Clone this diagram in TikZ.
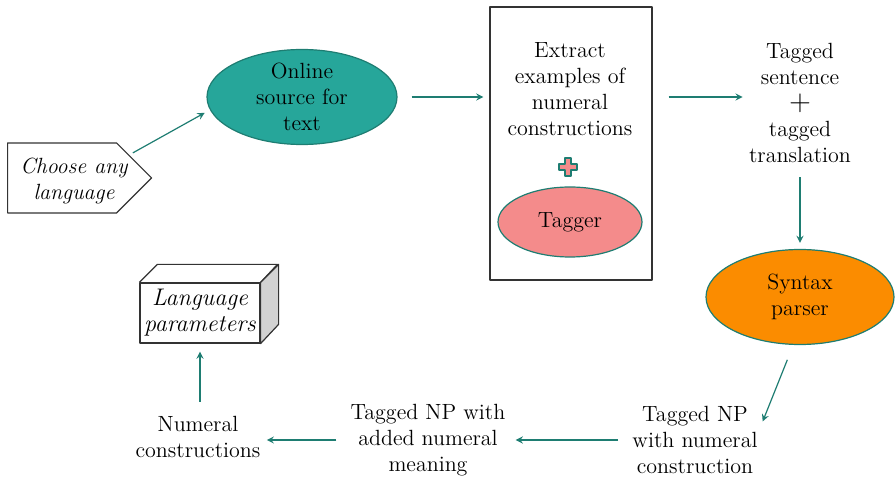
\documentclass[tikz,border=0pt]{standalone}
\usetikzlibrary{shapes.geometric,shapes.symbols,arrows.meta,calc}
\definecolor{tealfill}{HTML}{26A69A}
\definecolor{tealline}{HTML}{1E7D72}
\definecolor{pinkfill}{HTML}{F48B8B}
\definecolor{orangefill}{HTML}{FB8C00}
\definecolor{boxline}{HTML}{333333}
\begin{document}
\begin{tikzpicture}[x=0.5pt, y=-0.5pt, line join=round, >=stealth,
    font=\fontsize{11}{13}\selectfont,
    oval/.style={ellipse, draw=tealline, line width=0.6pt, inner sep=0pt},
    txt/.style={align=center, inner sep=2pt},
    flow/.style={->, draw=tealline, line width=0.6pt, shorten >=3pt, shorten <=5pt}]
	\useasboundingbox (0,0) rectangle (895,480);
	
	% start
	\node[signal, signal to=east, signal pointer angle=90, draw=boxline, line width=0.6pt,
	  minimum width=72pt, minimum height=35pt, inner sep=0pt, anchor=west] (lang) at (7,178) {};
	\node[txt, font=\fontsize{11}{13}\selectfont\itshape] at (74,181) {Choose any\\language};
	
	% online source
	\node[oval, fill=tealfill, minimum width=95pt, minimum height=47.5pt] (src) at (302,97) {};
	\node[txt] at (src) {Online\\source for\\text};
	
	% extraction box
	\node[draw=boxline, line width=0.6pt, minimum width=81pt, minimum height=136.5pt] (ext) at (571,143.5) {};
	\node[txt] (extxt) at (570,89) {Extract\\examples of\\numeral\\constructions};
	\draw[fill=pinkfill, draw=tealline, line width=0.6pt]
	(565,158) -- (571,158) -- (571,164) -- (577,164) -- (577,170) -- (571,170)
	-- (571,176) -- (565,176) -- (565,170) -- (559,170) -- (559,164) -- (565,164) -- cycle;
	\node[oval, fill=pinkfill, minimum width=72pt, minimum height=35pt] (tagger) at (570,222) {Tagger};
	
	% tagged sentence
	\node[txt] (tag) at (800,103) {Tagged\\sentence\\{\Large$+$}\\tagged\\translation};
	
	% parser
	\node[oval, fill=orangefill, minimum width=94pt, minimum height=47.5pt] (syn) at (800,297) {};
	\node[txt] at (syn) {Syntax\\parser};
	
	% bottom row
	\node[txt] (np) at (695,440) {Tagged NP\\with numeral\\construction};
	\node[txt] (added) at (428,440) {Tagged NP with\\added numeral\\meaning};
	\node[txt] (num) at (198,437) {Numeral\\constructions};
	
	% parameters box
	\node[draw=boxline, fill=white, line width=0.6pt, minimum width=60pt, minimum height=30pt,
	  inner sep=0pt, align=center, font=\fontsize{12}{13}\selectfont\itshape] (lp) at (200,313) {Language\\parameters};
	\draw[boxline, line width=0.6pt] (lp.north west) -- ++(18,-18) -- ++(120,0) -- (lp.north east);
	\draw[boxline, fill=gray!35, line width=0.6pt] (lp.north east) -- ++(18,-18) -- ++(0,60) -- (lp.south east) -- cycle;
	
	% connectors
	\draw[flow, shorten <=2pt] ($(lang.north east)!0.35!(lang.east)$) -- (src.188);
	\draw[flow, shorten <=7pt] (src.east) -- (ext.west |- src);
	\draw[flow, shorten <=8pt, shorten >=1pt] (ext.east |- src) -- (tag.west |- src);
	\draw[flow] (tag.south) -- (syn.north);
	\draw[flow, shorten <=8pt, shorten >=1pt] (syn.262) -- (np.14);
	\draw[flow] (np.west) -- (added.east);
	\draw[flow, shorten >=1pt] (added.west) -- (num.east |- added.west);
	\draw[flow, shorten >=4pt] (lp.south |- num.north) -- (lp.south);
\end{tikzpicture}
\end{document}
